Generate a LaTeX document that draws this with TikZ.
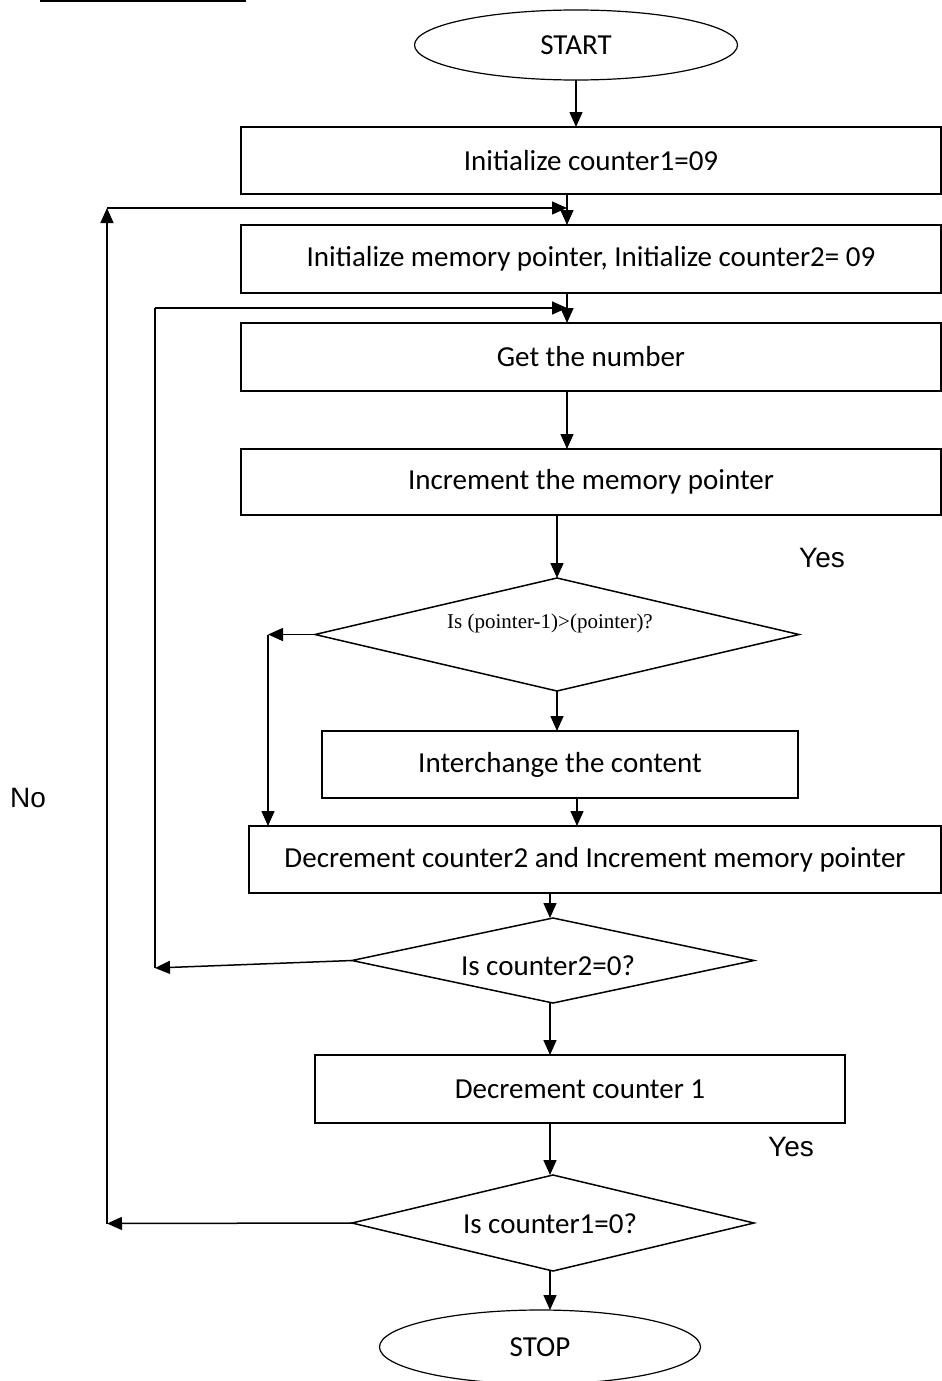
\documentclass[tikz,border=0pt]{standalone}
\usepackage{fontspec}
\setmainfont{Carlito}
\newfontfamily\answerfont{Liberation Sans}
\newfontfamily\condfont{Liberation Serif}
\usetikzlibrary{shapes.geometric,arrows.meta}

\begin{document}
\begin{tikzpicture}[x=1pt,y=-1pt,
  every node/.style={inner sep=0pt,outer sep=0pt},
  txt/.style={font=\fontsize{29}{34}\selectfont},
  stepbox/.style={draw,rectangle,line width=1.5pt,txt},
  term/.style={draw,ellipse,line width=1.2pt,txt},
  decision/.style={draw,diamond,line width=1.5pt},
  flow/.style={line width=1.5pt,-{Triangle[length=15pt,width=13pt]}},
  plain/.style={line width=1.5pt},
  answer/.style={font=\answerfont\fontsize{28}{32}\selectfont}
]
\useasboundingbox (0,0) rectangle (942,1381);

% heading rule
\draw[line width=2pt] (40,1) -- (246,1);

% terminals
\node[term,minimum width=323pt,minimum height=70pt] (start) at (576,45) {START};
\node[term,minimum width=321pt,minimum height=74pt] (stop) at (540,1347) {STOP};

% process boxes
\node[stepbox,minimum width=700pt,minimum height=67pt] (init1) at (591,160.5) {Initialize counter1=09};
\node[stepbox,minimum width=700pt,minimum height=68pt] (init2) at (591,259) {Initialize memory pointer, Initialize counter2= 09};
\node[stepbox,minimum width=700pt,minimum height=68pt] (getnum) at (591,357) {Get the number};
\node[stepbox,minimum width=700pt,minimum height=66pt] (incptr) at (591,482) {Increment the memory pointer};
\node[stepbox,minimum width=476pt,minimum height=67pt] (swap) at (560,764.5) {Interchange the content};
\node[stepbox,minimum width=692pt,minimum height=67pt] (dec2) at (595,859.5) {Decrement counter2 and Increment memory pointer\hspace{18pt}};
\node[stepbox,minimum width=530pt,minimum height=68pt] (dec1) at (580,1089) {Decrement counter 1};

% decisions
\node[decision,minimum width=484pt,minimum height=113pt] (cmp) at (557,634.5) {};
\node[font=\condfont\fontsize{21}{25}\selectfont] (cmptxt) at (550,623) {Is (pointer-1)>(pointer)?};
\node[decision,minimum width=402pt,minimum height=85pt] (chk2) at (553,960.5) {};
\node[txt] (chk2txt) at (548,966) {Is counter2=0?};
\node[decision,minimum width=402pt,minimum height=96pt] (chk1) at (553,1223) {};
\node[txt] (chk1txt) at (550,1224) {Is counter1=0?};

% answer labels
\node[answer] (yes1) at (822,558) {Yes};
\node[answer] (yes2) at (791,1147) {Yes};
\node[answer] (no) at (28,798) {No};

% column guides for the main flow
\coordinate (xa) at (567,0);
\coordinate (xb) at (557,0);
\coordinate (xc) at (577,0);
\coordinate (xd) at (550,0);

% main flow
\draw[flow] (start.south) -- (start.south |- init1.north);
\draw[flow] (init1.south -| xa) -- (init2.north -| xa);
\draw[flow] (init2.south -| xa) -- (getnum.north -| xa);
\draw[flow] (getnum.south -| xa) -- (incptr.north -| xa);
\draw[flow] (incptr.south -| xb) -- (cmp.north);
\draw[flow] (cmp.south) -- (swap.north -| xb);
\draw[flow] (swap.south -| xc) -- (dec2.north -| xc);
\draw[flow] (dec2.south -| xd) -- (chk2.north -| xd);
\draw[flow] (chk2.south -| xd) -- (dec1.north -| xd);
\draw[flow] (dec1.south -| xd) -- (chk1.north -| xd);
\draw[flow] (chk1.south -| xd) -- (stop.north -| xd);

% comparison: skip the exchange
\coordinate (skip) at (268,634.5);
\draw[flow] (cmp.west) -- (skip);
\draw[flow] (skip) -- (skip |- dec2.north);

% inner loop back to "Get the number"
\coordinate (in1) at (155,968);
\coordinate (in2) at (155,308);
\draw[flow] (chk2.west) -- (in1);
\draw[plain] (in1) -- (in2);
\draw[flow] (in2) -- (in2 -| xa);

% outer loop back to the pointer reset
\coordinate (out1) at (107,1223.5);
\coordinate (out2) at (107,208);
\draw[flow] (chk1.west) -- (out1);
\draw[flow] (out1) -- (out2);
\draw[flow] (out2) -- (out2 -| xa);
\end{tikzpicture}
\end{document}
